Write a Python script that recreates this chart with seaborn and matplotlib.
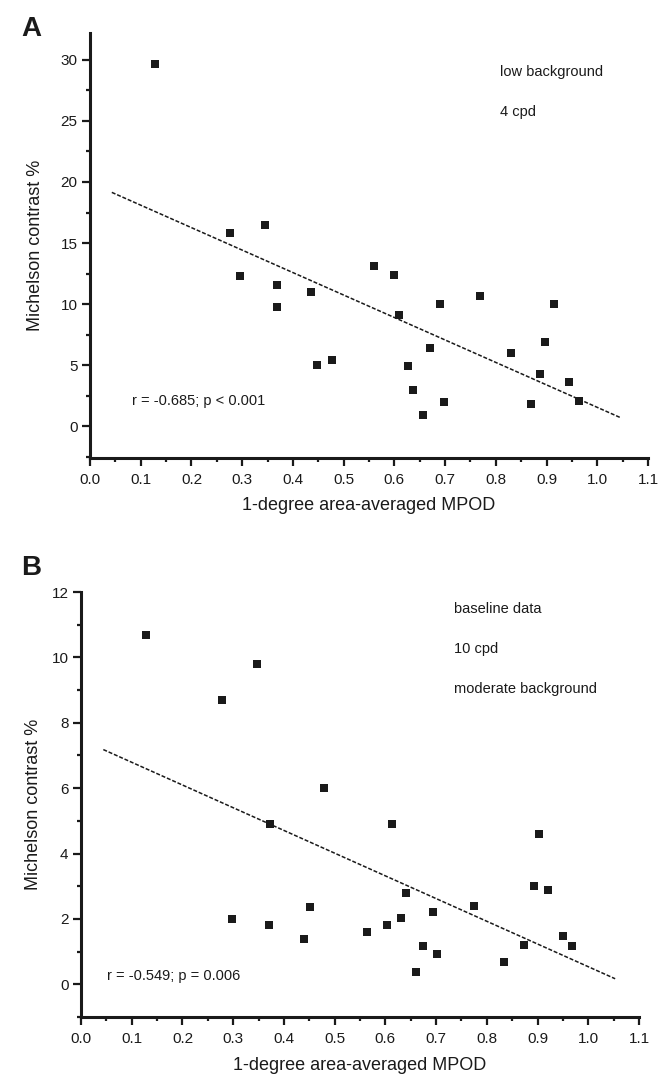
import matplotlib
matplotlib.use("Agg")
import matplotlib.pyplot as plt
import seaborn as sns
import pandas as pd
from matplotlib.ticker import MultipleLocator, FormatStrFormatter

# ---- data ----
mpod_a = [0.128, 0.275, 0.296, 0.344, 0.368, 0.369, 0.436, 0.448, 0.478, 0.560, 0.599, 0.610, 0.626,
          0.636, 0.656, 0.671, 0.690, 0.697, 0.769, 0.829, 0.869, 0.888, 0.897, 0.915, 0.944, 0.963]
contrast_a = [29.7, 15.8, 12.3, 16.5, 11.6, 9.75, 11.0, 5.0, 5.4, 13.1, 12.4, 9.1, 4.9,
              2.95, 0.9, 6.4, 10.0, 2.0, 10.7, 6.0, 1.8, 4.3, 6.9, 10.0, 3.6, 2.1]
mpod_b = [0.129, 0.278, 0.298, 0.347, 0.372, 0.371, 0.439, 0.451, 0.480, 0.564, 0.603, 0.614, 0.630,
          0.641, 0.660, 0.675, 0.694, 0.701, 0.774, 0.833, 0.874, 0.893, 0.902, 0.921, 0.950, 0.967]
contrast_b = [10.69, 8.70, 2.0, 9.80, 4.89, 1.80, 1.40, 2.35, 5.99, 1.60, 1.80, 4.89, 2.02,
              2.79, 0.37, 1.16, 2.21, 0.93, 2.40, 0.69, 1.19, 3.0, 4.60, 2.90, 1.49, 1.18]
fit_x_a = [0.043, 1.046]
fit_a = [19.15, 0.7]
fit_x_b = [0.044, 1.053]
fit_b = [7.18, 0.17]

notes_a = ["low background", "4 cpd"]
notes_b = ["baseline data", "10 cpd", "moderate background"]
stat_a = "r = -0.685; p < 0.001"
stat_b = "r = -0.549; p = 0.006"
xlabel = "1-degree area-averaged MPOD"
ylabel = "Michelson contrast %"

sns.set_style("ticks")
plt.rcParams['font.family'] = ['Liberation Sans', 'DejaVu Sans']

fig = plt.figure(figsize=(6.65, 10.81), dpi=100)
W, H = 665.0, 1081.0
# axes boxes in pixels: left, top, right, bottom
def box(l, t, r, b):
    return [l / W, 1 - b / H, (r - l) / W, (b - t) / H]

axA = fig.add_axes(box(90, 33, 648, 458))
axB = fig.add_axes(box(81, 592, 639, 1017))

ink = "#1a1a1a"

def style(ax, ymaj, ymin, ylim, ylab_x):
    ax.set_xlim(0, 1.1)
    ax.set_ylim(*ylim)
    ax.xaxis.set_major_locator(MultipleLocator(0.1))
    ax.xaxis.set_minor_locator(MultipleLocator(0.05))
    ax.xaxis.set_major_formatter(FormatStrFormatter("%.1f"))
    ax.yaxis.set_major_locator(MultipleLocator(ymaj))
    ax.yaxis.set_minor_locator(MultipleLocator(ymin))
    ax.yaxis.set_major_formatter(FormatStrFormatter("%d"))
    for s in ["top", "right"]:
        ax.spines[s].set_visible(False)
    for s in ["left", "bottom"]:
        ax.spines[s].set_linewidth(2.2)
        ax.spines[s].set_color(ink)
    ax.tick_params(which="major", length=5.5, width=1.6, color=ink, labelsize=11,
                   labelcolor=ink)
    ax.tick_params(which="minor", length=3.2, width=1.6, color=ink)
    ax.tick_params(axis="x", which="major", pad=5)
    ax.tick_params(axis="y", which="major", pad=3.5)
    ax.set_xlabel(xlabel, fontsize=13, color=ink)
    ax.set_ylabel(ylabel, fontsize=13, color=ink)
    ax.xaxis.set_label_coords(0.5, -48 / 425)
    ax.xaxis.label.set_verticalalignment("center")
    ax.yaxis.set_label_coords(ylab_x, 0.5)
    ax.yaxis.label.set_verticalalignment("center")

dfA = pd.DataFrame({"x": mpod_a, "y": contrast_a})
dfB = pd.DataFrame({"x": mpod_b, "y": contrast_b})

for ax, df, fx, fy in [(axA, dfA, fit_x_a, fit_a), (axB, dfB, fit_x_b, fit_b)]:
    sns.lineplot(x=fx, y=fy, ax=ax, color=ink, linewidth=1.1,
                 linestyle=(0, (2.6, 1.2)))
    sns.scatterplot(data=df, x="x", y="y", ax=ax, marker="s", s=26, color=ink,
                    linewidth=0, zorder=3)

style(axA, 5, 2.5, (-2.6, 32.2), -0.097)
style(axB, 2, 1, (-1.0, 12.0), -0.086)

ann = dict(fontsize=10.5, color=ink, va="center", ha="left")
for yv, t in zip([28.97, 25.7], notes_a):
    axA.text(0.808, yv, t, **ann)
axA.text(0.082, 2.09, stat_a, **ann)

for yv, t in zip([11.49, 10.26, 9.03], notes_b):
    axB.text(0.735, yv, t, **ann)
axB.text(0.051, 0.245, stat_b, **ann)

fig.text(21 / W, 1 - 36 / H, "A", fontsize=20, fontweight="bold", color=ink,
         va="baseline", ha="left")
fig.text(21 / W, 1 - 575 / H, "B", fontsize=20, fontweight="bold", color=ink,
         va="baseline", ha="left")

fig.savefig("out.png", dpi=100, facecolor="white")
